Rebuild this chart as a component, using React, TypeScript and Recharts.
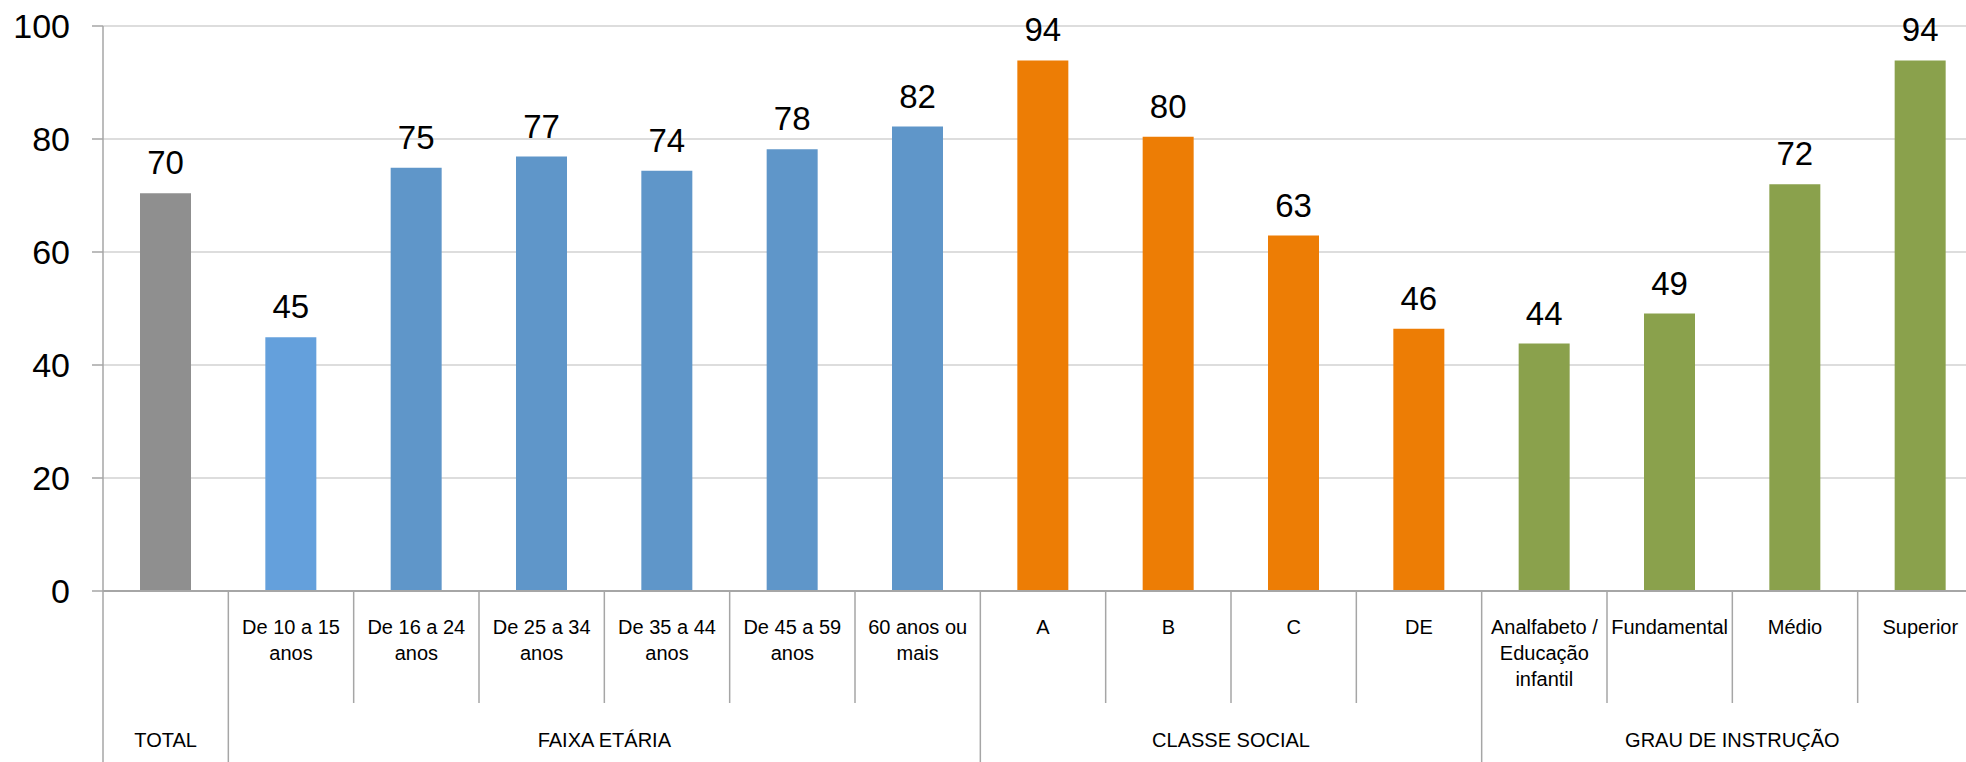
import { BarChart, Bar, XAxis, YAxis, CartesianGrid, Cell, LabelList } from "recharts";

// dados
const categories = [
  "TOTAL",
  "De 10 a 15 anos",
  "De 16 a 24 anos",
  "De 25 a 34 anos",
  "De 35 a 44 anos",
  "De 45 a 59 anos",
  "60 anos ou mais",
  "A",
  "B",
  "C",
  "DE",
  "Analfabeto / Educação infantil",
  "Fundamental",
  "Médio",
  "Superior",
];
const tickLines: string[][] = [
  [],
  ["De 10 a 15", "anos"],
  ["De 16 a 24", "anos"],
  ["De 25 a 34", "anos"],
  ["De 35 a 44", "anos"],
  ["De 45 a 59", "anos"],
  ["60 anos ou", "mais"],
  ["A"],
  ["B"],
  ["C"],
  ["DE"],
  ["Analfabeto /", "Educação", "infantil"],
  ["Fundamental"],
  ["Médio"],
  ["Superior"],
];
const values = [70.4, 44.9, 74.9, 76.9, 74.4, 78.2, 82.2, 93.9, 80.4, 62.9, 46.4, 43.8, 49.1, 72.0, 93.9];
const groupNames = ["TOTAL", "FAIXA ETÁRIA", "CLASSE SOCIAL", "GRAU DE INSTRUÇÃO"];
const groupSizes = [1, 6, 4, 4];
const yTicks = [0, 20, 40, 60, 80, 100];

const barColors = [
  "#8F8F8F",
  "#64A0DC", "#5F96C9", "#5F96C9", "#5F96C9", "#5F96C9", "#5F96C9",
  "#ED7D05", "#ED7D05", "#ED7D05", "#ED7D05",
  "#8AA14C", "#8AA14C", "#8AA14C", "#8AA14C",
];

const data = categories.map((c, i) => ({ name: c, value: values[i] }));

const CHART_W = 1984;
const CHART_H = 762;
const Y_AXIS_W = 103;
const MARGIN_R = 1;
const X_AXIS_H = 171;
const BAND = (CHART_W - Y_AXIS_W - MARGIN_R) / categories.length;
const LINE_COLOR = "#A6A6A6";

const groupStarts = groupSizes.map((_, i) => groupSizes.slice(0, i).reduce((a, b) => a + b, 0));

function CategoryTick(props: any) {
  const { x, y, index } = props;
  const left = x - BAND / 2;
  const g = groupStarts.indexOf(index);
  const lines = tickLines[index] || [];
  return (
    <g>
      <line
        x1={left}
        x2={left}
        y1={y}
        y2={g >= 0 ? y + X_AXIS_H : y + 112}
        stroke={LINE_COLOR}
        strokeWidth={1.5}
      />
      {lines.map((t, i) => (
        <text key={i} x={x} y={y + 43 + i * 26} textAnchor="middle" fontSize={20} fill="#000">
          {t}
        </text>
      ))}
      {g >= 0 && (
        <text
          x={left + (groupSizes[g] * BAND) / 2}
          y={y + 156}
          textAnchor="middle"
          fontSize={20}
          fill="#000"
        >
          {groupNames[g]}
        </text>
      )}
    </g>
  );
}

export default function App() {
  return (
    <div
      style={{
        position: "absolute",
        left: 0,
        top: 0,
        width: 1966,
        height: 762,
        overflow: "hidden",
        background: "#fff",
        fontFamily: "'Liberation Sans', Arial, sans-serif",
      }}
    >
      <BarChart
        width={CHART_W}
        height={CHART_H}
        data={data}
        margin={{ top: 26, right: MARGIN_R, left: 0, bottom: 0 }}
      >
        <CartesianGrid vertical={false} stroke="#DDDDDD" strokeWidth={2} />
        <XAxis
          dataKey="name"
          interval={0}
          height={X_AXIS_H}
          tickLine={false}
          tickSize={0}
          tickMargin={0}
          axisLine={{ stroke: LINE_COLOR, strokeWidth: 2 }}
          tick={<CategoryTick />}
        />
        <YAxis
          width={Y_AXIS_W}
          domain={[0, 100]}
          ticks={yTicks}
          interval={0}
          tickSize={11}
          tickMargin={22}
          axisLine={{ stroke: LINE_COLOR, strokeWidth: 1.5 }}
          tickLine={{ stroke: LINE_COLOR, strokeWidth: 1.5 }}
          tick={{ fontSize: 34, fill: "#000" }}
        />
        <Bar dataKey="value" barSize={51} isAnimationActive={false}>
          {data.map((_, i) => (
            <Cell key={i} fill={barColors[i]} />
          ))}
          <LabelList
            dataKey="value"
            position="top"
            offset={19}
            fontSize={33}
            fill="#000"
            formatter={(v: any) => Math.round(Number(v))}
          />
        </Bar>
      </BarChart>
    </div>
  );
}
